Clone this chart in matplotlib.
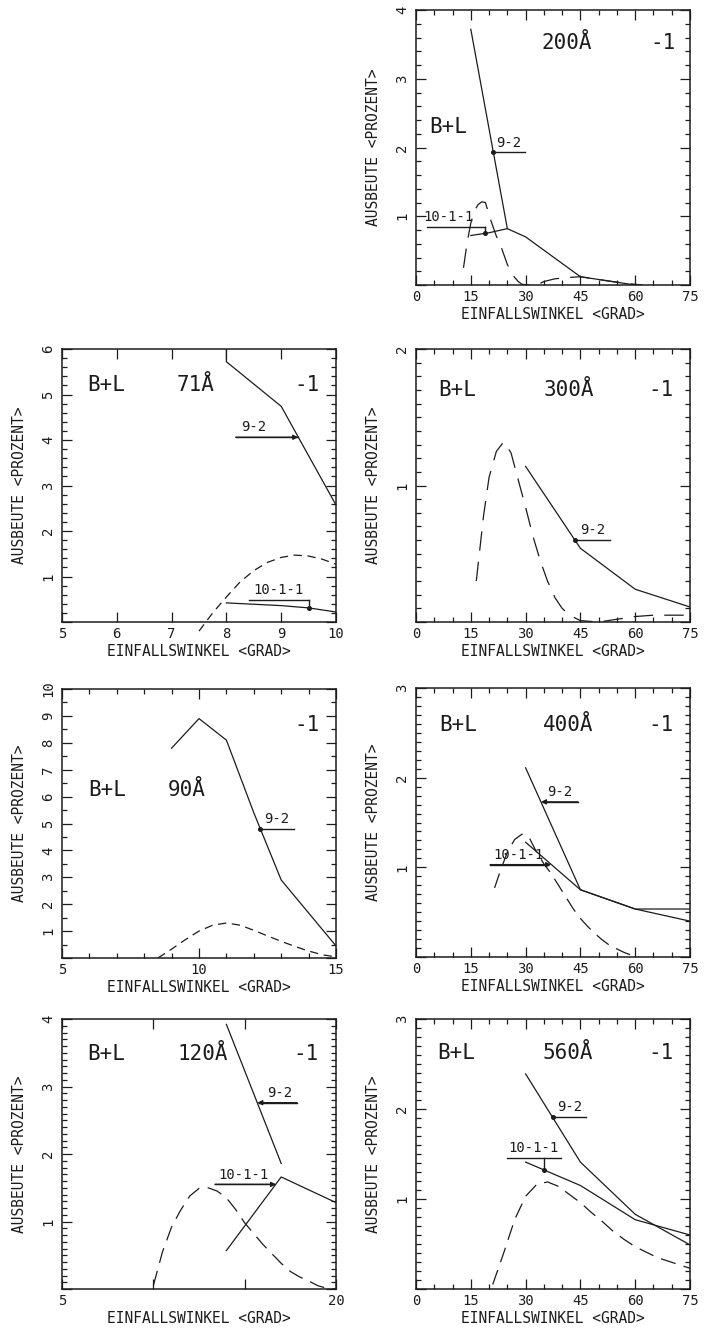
import matplotlib
matplotlib.use("Agg")
import matplotlib.pyplot as plt
from matplotlib.ticker import MultipleLocator

plt.rcParams['font.family'] = ['DejaVu Sans Mono', 'DejaVu Sans']
plt.rcParams['lines.scale_dashes'] = False

INK = '#1c1c1c'

# ---------------- data ----------------
# 200 A
p200_x92 = [15, 25, 30, 45, 60]
p200_y92 = [3.72, 0.82, 0.70, 0.12, 0.0]
p200_x1011 = [15, 20, 25]
p200_y1011 = [0.72, 0.76, 0.82]
p200_xd = [13, 14, 15, 16, 17, 18, 19, 20, 21, 22, 23, 24, 25, 26, 27, 28, 29, 31, 33, 35, 38, 42, 45, 50, 55, 60, 62]
p200_yd = [0.25, 0.62, 0.90, 1.08, 1.17, 1.21, 1.20, 1.02, 0.86, 0.71, 0.60, 0.45, 0.30, 0.19, 0.11, 0.05, 0.01, 0.0, 0.0, 0.05, 0.09, 0.11, 0.12, 0.08, 0.04, 0.01, 0.0]

# 71 A
p71_x92 = [8, 8, 9, 10]
p71_y92 = [6.0, 5.72, 4.74, 2.57]
p71_x1011 = [8, 9, 9.5, 10]
p71_y1011 = [0.42, 0.36, 0.31, 0.22]
p71_xd = [7.5, 7.75, 8, 8.25, 8.5, 8.75, 9, 9.25, 9.5, 9.75, 10]
p71_yd = [-0.2, 0.2, 0.55, 0.88, 1.13, 1.31, 1.42, 1.47, 1.45, 1.38, 1.27]

# 300 A
p300_x92 = [30, 45, 60, 75]
p300_y92 = [1.14, 0.54, 0.24, 0.11]
p300_xd = [16.5, 18.5, 20, 22, 24, 26, 28, 30, 32, 34, 36, 38, 40, 42, 45, 50, 55, 60, 65, 70, 75]
p300_yd = [0.30, 0.78, 1.06, 1.25, 1.32, 1.24, 1.04, 0.84, 0.63, 0.45, 0.30, 0.18, 0.10, 0.05, 0.01, 0.0, 0.02, 0.04, 0.05, 0.05, 0.05]

# 90 A
p90_x92 = [9, 10, 11, 12, 13, 15]
p90_y92 = [7.8, 8.9, 8.1, 5.4, 2.9, 0.45]
p90_xd = [8.5, 9, 9.5, 10, 10.5, 11, 11.5, 12, 12.5, 13, 13.5, 14, 14.5, 15]
p90_yd = [0.0, 0.33, 0.68, 1.0, 1.22, 1.3, 1.22, 1.03, 0.82, 0.62, 0.43, 0.26, 0.12, 0.04]

# 400 A
p400_x92 = [30, 45, 60, 75]
p400_y92 = [2.11, 0.75, 0.535, 0.40]
p400_x1011 = [30, 45, 60, 75]
p400_y1011 = [1.28, 0.75, 0.535, 0.535]
p400_xd = [21.5, 23, 25, 27, 29, 31, 33, 35, 37, 39, 41, 43, 45, 47, 49, 51, 53, 55, 57, 59, 61]
p400_yd = [0.77, 0.95, 1.17, 1.31, 1.37, 1.33, 1.17, 1.04, 0.93, 0.80, 0.67, 0.54, 0.43, 0.34, 0.26, 0.19, 0.13, 0.09, 0.05, 0.02, 0.0]

# 120 A
p120_x92 = [14, 17]
p120_y92 = [3.92, 1.86]
p120_x1011 = [14, 17, 20]
p120_y1011 = [0.57, 1.66, 1.28]
p120_xd = [10, 10.5, 11, 11.5, 12, 12.5, 13, 13.5, 14, 14.5, 15, 15.5, 16, 16.5, 17, 17.5, 18, 18.5, 19, 19.5, 20]
p120_yd = [0.05, 0.55, 0.92, 1.17, 1.38, 1.49, 1.50, 1.45, 1.35, 1.18, 0.98, 0.82, 0.66, 0.52, 0.38, 0.26, 0.18, 0.12, 0.05, 0.01, 0.0]

# 560 A
p560_x92 = [30, 45, 60, 75]
p560_y92 = [2.39, 1.41, 0.83, 0.49]
p560_x1011 = [30, 45, 60, 75]
p560_y1011 = [1.41, 1.15, 0.77, 0.60]
p560_xd = [21, 24, 27, 30, 33, 36, 39, 42, 45, 48, 51, 54, 57, 60, 63, 66, 69, 72, 75]
p560_yd = [0.05, 0.40, 0.77, 1.03, 1.16, 1.19, 1.14, 1.05, 0.96, 0.85, 0.75, 0.64, 0.55, 0.47, 0.41, 0.35, 0.31, 0.27, 0.23]

XLABEL = 'EINFALLSWINKEL <GRAD>'
YLABEL = 'AUSBEUTE <PROZENT>'

# ---------------- figure ----------------
W, H = 708, 1330
fig = plt.figure(figsize=(W / 100, H / 100), dpi=100)
fig.patch.set_facecolor('white')


def make_ax(x0, y0, x1, y1, xlim, ylim, xticks, xlabels, xminor, yminor):
    ax = fig.add_axes([x0 / W, 1 - y1 / H, (x1 - x0) / W, (y1 - y0) / H])
    ax.set_xlim(*xlim)
    ax.set_ylim(*ylim)
    ax.set_xticks(xticks, xlabels)
    if xminor:
        ax.xaxis.set_minor_locator(MultipleLocator(xminor))
    yt = list(range(int(ylim[0]), int(ylim[1]) + 1))
    ax.set_yticks(yt, ['' if v == 0 else str(v) for v in yt])
    ax.yaxis.set_minor_locator(MultipleLocator(yminor))
    ax.tick_params(which='both', direction='in', top=True, right=True,
                   color=INK, labelcolor=INK, labelsize=10, width=0.9)
    ax.tick_params(which='major', length=7, pad=3.5)
    ax.tick_params(which='minor', length=3.5)
    ax.tick_params(axis='y', labelrotation=90, pad=5)
    for lab in ax.get_yticklabels():
        lab.set_verticalalignment('center')
    for s in ax.spines.values():
        s.set_linewidth(1.1)
        s.set_color(INK)
    ax.set_xlabel(XLABEL, fontsize=10.5, color=INK, labelpad=2)
    ax.set_ylabel(YLABEL, fontsize=10.5, color=INK, labelpad=10)
    return ax


def solid(ax, x, y):
    ax.plot(x, y, color=INK, lw=0.9, solid_joinstyle='miter')


def dashed(ax, x, y, dash, clip=True):
    ln, = ax.plot(x, y, color=INK, lw=0.9, clip_on=clip)
    ln.set_dashes(dash)


def titles(ax, items):
    for txt, x, y in items:
        ax.text(x, y, txt, ha='center', va='center', fontsize=15, color=INK)


def tag(ax, text, x0, x1, y, tx, end=None, tip=None, drop=None):
    ax.plot([x0, x1], [y, y], color=INK, lw=1.0)
    ax.annotate(text, (tx, y), xytext=(0, 2), textcoords='offset points',
                ha='center', va='bottom', fontsize=10, color=INK)
    if end == 'dot':
        ax.plot([tip[0]], [tip[1]], 'o', color=INK, ms=2.6)
    elif end == 'arrow':
        start = x1 if tip[0] < (x0 + x1) / 2 else x0
        ax.annotate('', xy=tip, xytext=(start, y),
                    arrowprops=dict(arrowstyle='-|>', color=INK, lw=1.0,
                                    mutation_scale=7, shrinkA=0, shrinkB=0))
    if drop is not None:
        ax.plot([drop[0], drop[0]], [y, drop[1]], color=INK, lw=1.0)
        ax.plot([drop[0]], [drop[1]], 'o', color=INK, ms=2.6)


XLONG = (14, 8)
LONG = (11, 6)
SHORT = (6, 4)
deg = [0, 15, 30, 45, 60, 75]
deg_lab = ['0', '15', '30', '45', '60', '75']

# 200 A
ax = make_ax(416, 10, 690, 285, (0, 75), (0, 4), deg, deg_lab, 5, 0.2)
solid(ax, p200_x92, p200_y92)
solid(ax, p200_x1011, p200_y1011)
dashed(ax, p200_xd, p200_yd, XLONG)
titles(ax, [('200Å', 41.2, 3.52), ('-1', 67.5, 3.52), ('B+L', 8.9, 2.3)])
tag(ax, '9-2', 21.2, 29.8, 1.93, 25.5, end='dot', tip=(21.2, 1.93))
tag(ax, '10-1-1', 3.0, 19.0, 0.84, 9.0, drop=(19.0, 0.755))

# 71 A
ax = make_ax(62, 349, 336, 622, (5, 10), (0, 6), [5, 6, 7, 8, 9, 10],
             ['5', '6', '7', '8', '9', '10'], None, 0.2)
solid(ax, p71_x92, p71_y92)
solid(ax, p71_x1011, p71_y1011)
dashed(ax, p71_xd, p71_yd, SHORT, clip=False)
titles(ax, [('B+L', 5.8, 5.2), ('71Å', 7.43, 5.2), ('-1', 9.47, 5.2)])
tag(ax, '9-2', 8.17, 9.31, 4.06, 8.5, end='arrow', tip=(9.31, 4.06))
tag(ax, '10-1-1', 8.41, 9.5, 0.48, 8.95, drop=(9.5, 0.31))

# 300 A
ax = make_ax(416, 349, 690, 622, (0, 75), (0, 2), deg, deg_lab, 5, 0.1)
solid(ax, p300_x92, p300_y92)
dashed(ax, p300_xd, p300_yd, XLONG)
titles(ax, [('B+L', 11.3, 1.7), ('300Å', 41.9, 1.7), ('-1', 67.1, 1.7)])
tag(ax, '9-2', 43.5, 53.1, 0.6, 48.5, end='dot', tip=(43.5, 0.6))

# 90 A
ax = make_ax(62, 689, 336, 958, (5, 15), (0, 10), [5, 10, 15],
             ['5', '10', '15'], 1, 0.5)
solid(ax, p90_x92, p90_y92)
dashed(ax, p90_xd, p90_yd, SHORT)
titles(ax, [('B+L', 6.65, 6.24), ('90Å', 9.56, 6.24), ('-1', 13.94, 8.66)])
tag(ax, '9-2', 12.24, 13.47, 4.8, 12.84, end='dot', tip=(12.24, 4.8))

# 400 A
ax = make_ax(416, 688, 690, 957, (0, 75), (0, 3), deg, deg_lab, 5, 0.1)
solid(ax, p400_x92, p400_y92)
solid(ax, p400_x1011, p400_y1011)
dashed(ax, p400_xd, p400_yd, LONG)
titles(ax, [('B+L', 11.6, 2.59), ('400Å', 41.7, 2.59), ('-1', 67.0, 2.59)])
tag(ax, '9-2', 34.7, 44.3, 1.73, 39.4, end='arrow', tip=(34.2, 1.73))
tag(ax, '10-1-1', 20.3, 36.2, 1.03, 28.0, end='arrow', tip=(37.0, 1.03))

# 120 A
ax = make_ax(62, 1019, 336, 1289, (5, 20), (0, 4), [5, 10, 15, 20],
             ['5', '', '', '20'], None, 0.1)
solid(ax, p120_x92, p120_y92)
solid(ax, p120_x1011, p120_y1011)
dashed(ax, p120_xd, p120_yd, LONG)
titles(ax, [('B+L', 7.43, 3.48), ('120Å', 12.68, 3.48), ('-1', 18.35, 3.48)])
tag(ax, '9-2', 15.76, 17.86, 2.76, 16.9, end='arrow', tip=(15.69, 2.76))
tag(ax, '10-1-1', 13.38, 16.6, 1.55, 14.93, end='arrow', tip=(16.72, 1.55))

# 560 A
ax = make_ax(416, 1019, 690, 1289, (0, 75), (0, 3), deg, deg_lab, 5, 0.1)
solid(ax, p560_x92, p560_y92)
solid(ax, p560_x1011, p560_y1011)
dashed(ax, p560_xd, p560_yd, LONG)
titles(ax, [('B+L', 11.1, 2.62), ('560Å', 41.5, 2.62), ('-1', 67.0, 2.62)])
tag(ax, '9-2', 37.4, 46.5, 1.91, 42.0, end='dot', tip=(37.4, 1.91))
tag(ax, '10-1-1', 24.8, 39.7, 1.46, 32.2, drop=(35.1, 1.32))

fig.savefig('out.png', dpi=100, facecolor='white')
